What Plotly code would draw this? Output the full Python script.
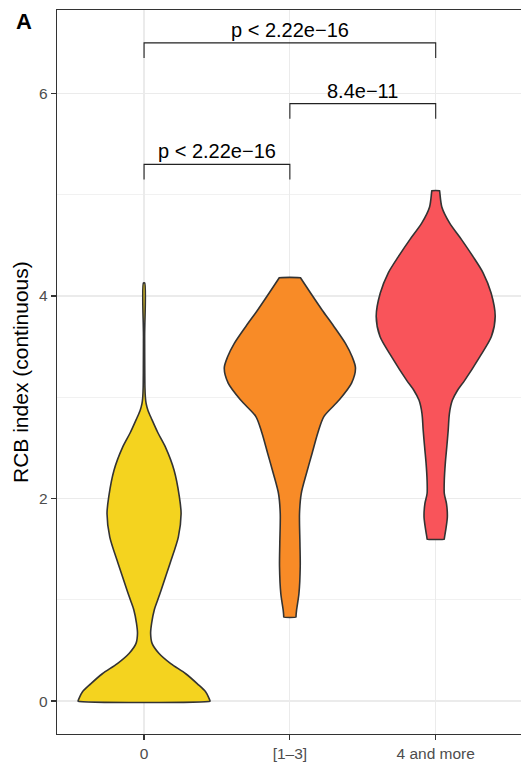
import plotly.graph_objects as go

# ---------------- data ----------------
categories = ["0", "[1\u20133]", "4 and more"]
colors = ["#F4D31F", "#F88B27", "#F9545A"]

# violin profiles: y value (RCB index) and half-width (category units)
v0_y = [4.13, 3.60, 3.10, 3.00, 2.94, 2.87, 2.78, 2.65, 2.51, 2.28, 2.02, 1.85, 1.62, 1.36, 1.10, 1.00,
        0.90, 0.77, 0.67, 0.57, 0.47, 0.37, 0.27, 0.17, 0.09, 0.004, 0.0]
v0_w = [0.004, 0.004, 0.006, 0.009, 0.014, 0.027, 0.054, 0.095, 0.146, 0.206, 0.242, 0.254, 0.235, 0.178,
        0.118, 0.094, 0.070, 0.052, 0.045, 0.055, 0.103, 0.183, 0.286, 0.366, 0.423, 0.452, 0.452]

v1_y = [4.18, 4.176, 4.03, 3.86, 3.70, 3.53, 3.40, 3.29, 3.14, 2.97, 2.81, 2.65, 2.45, 2.25, 2.05, 1.85,
        1.56, 1.33, 1.06, 0.90, 0.834, 0.83]
v1_w = [0.073, 0.075, 0.142, 0.222, 0.302, 0.382, 0.427, 0.450, 0.423, 0.336, 0.233, 0.192, 0.153, 0.114,
        0.078, 0.066, 0.069, 0.071, 0.062, 0.046, 0.042, 0.042]

v2_y = [5.04, 5.036, 4.88, 4.72, 4.56, 4.39, 4.23, 4.03, 3.80, 3.60, 3.40, 3.17, 3.07, 2.97, 2.84, 2.68,
        2.51, 2.35, 2.18, 2.05, 1.95, 1.82, 1.71, 1.604, 1.60]
v2_w = [0.026, 0.027, 0.042, 0.096, 0.176, 0.256, 0.325, 0.380, 0.408, 0.382, 0.302, 0.200, 0.150, 0.114,
        0.094, 0.086, 0.076, 0.066, 0.059, 0.059, 0.074, 0.080, 0.071, 0.059, 0.059]

profiles_y = [v0_y, v1_y, v2_y]
profiles_w = [v0_w, v1_w, v2_w]

# pairwise comparisons
comp_group1 = [0, 1, 0]
comp_group2 = [1, 2, 2]
comp_y = [5.30, 5.90, 6.50]
comp_labels = ["p < 2.22e\u221216", "8.4e\u221211", "p < 2.22e\u221216"]
tip_length = 0.15

y_ticks = [0, 2, 4, 6]

FONT = "Liberation Sans, Arial, Helvetica, sans-serif"

fig = go.Figure()

for i, (ys, ws) in enumerate(zip(profiles_y, profiles_w)):
    right_x = [i + w for w in ws]
    left_x = [i - w for w in reversed(ws)]
    xs = right_x + left_x + [right_x[0]]
    yy = list(ys) + list(reversed(ys)) + [ys[0]]
    fig.add_trace(go.Scatter(
        x=xs, y=yy, mode="lines", fill="toself", fillcolor=colors[i],
        line=dict(color="#333333", width=1.6, shape="spline", smoothing=0.8),
        hoverinfo="skip", showlegend=False,
    ))

for g1, g2, yv, lab in zip(comp_group1, comp_group2, comp_y, comp_labels):
    fig.add_trace(go.Scatter(
        x=[g1, g1, g2, g2], y=[yv - tip_length, yv, yv, yv - tip_length],
        mode="lines", line=dict(color="#222222", width=1.1),
        hoverinfo="skip", showlegend=False,
    ))
    fig.add_annotation(x=(g1 + g2) / 2, y=yv, text=lab, showarrow=False,
                       xanchor="center", yanchor="bottom", yshift=1, borderpad=0,
                       font=dict(family=FONT, size=20, color="#000000"))

# y-axis title and panel tag
fig.add_annotation(xref="paper", yref="paper", x=0, y=0.5, xshift=-37, text="RCB index (continuous)",
                   textangle=-90, showarrow=False, xanchor="center", yanchor="middle",
                   font=dict(family=FONT, size=21, color="#000000"))
fig.add_annotation(xref="paper", yref="paper", x=0, y=1, xshift=-43, yshift=-11, text="<b>A</b>",
                   showarrow=False, xanchor="left", yanchor="middle",
                   font=dict(family=FONT, size=22, color="#000000"))

fig.update_layout(
    width=521, height=766,
    margin=dict(l=57, r=0, t=10, b=32),
    paper_bgcolor="white", plot_bgcolor="white",
    font=dict(family=FONT),
    xaxis=dict(
        range=[-0.597, 2.585], tickmode="array", tickvals=[0, 1, 2], ticktext=categories,
        showgrid=True, gridcolor="#EBEBEB", gridwidth=1.2, zeroline=False,
        showline=True, linecolor="#333333", linewidth=1.2, mirror=True,
        ticks="outside", ticklen=5, tickwidth=1.2, tickcolor="#333333",
        tickfont=dict(family=FONT, size=15.5, color="#4D4D4D"),
        automargin=False,
    ),
    yaxis=dict(
        range=[-0.325, 6.825], tickmode="array", tickvals=y_ticks, ticktext=[str(t) for t in y_ticks],
        showgrid=True, gridcolor="#EBEBEB", gridwidth=1.2, zeroline=False,
        showline=True, linecolor="#333333", linewidth=1.2, mirror=False,
        ticks="outside", ticklen=5, tickwidth=1.2, tickcolor="#333333",
        tickfont=dict(family=FONT, size=15.5, color="#4D4D4D"),
        minor=dict(tickvals=[1, 3, 5], showgrid=True, gridcolor="#F0F0F0", gridwidth=0.9, ticks=""),
        automargin=False,
    ),
)

fig.write_html(
    "out.html",
    config={"displayModeBar": False, "staticPlot": True},
    post_script="document.body.style.margin='0';document.body.style.padding='0';document.body.style.overflow='hidden';",
)
